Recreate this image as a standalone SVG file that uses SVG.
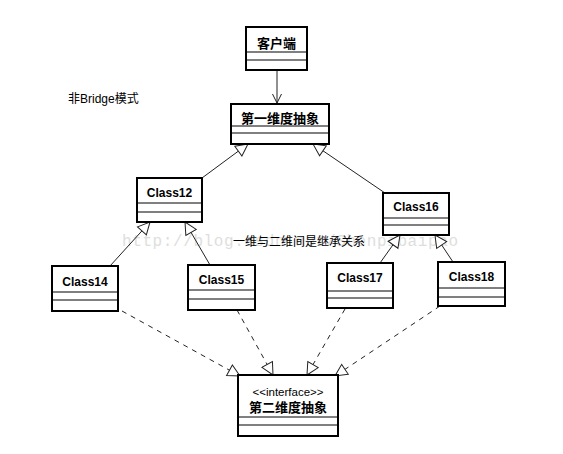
<svg xmlns="http://www.w3.org/2000/svg" width="563" height="454" viewBox="0 0 563 454">
<defs>
<style>
.box{fill:#fff;stroke:#000;stroke-width:2}
.div{stroke:#000;stroke-width:1}
.cls{font-family:"Liberation Sans",Arial,sans-serif;font-weight:bold;font-size:12px;text-anchor:middle;fill:#000}
.cn{font-family:"Noto Sans CJK SC","Liberation Sans",sans-serif;font-weight:bold;font-size:13px;text-anchor:middle;fill:#000}
.lbl{font-family:"Liberation Sans","Noto Sans CJK SC",sans-serif;font-size:12px;fill:#000}
.conn{stroke:#222;stroke-width:1;fill:none}
.dash{stroke-dasharray:5,5}
</style>
<marker id="tri" markerUnits="userSpaceOnUse" markerWidth="16" markerHeight="16" refX="13" refY="7" orient="auto">
<path d="M1,1 L13,7 L1,13 Z" fill="#fff" stroke="#222" stroke-width="1" stroke-dasharray="none"/>
</marker>
<marker id="open" markerUnits="userSpaceOnUse" markerWidth="12" markerHeight="12" refX="10" refY="6" orient="auto">
<path d="M1,1.5 L10,6 L1,10.5" fill="none" stroke="#222" stroke-width="1"/>
</marker>
</defs>
<rect width="563" height="454" fill="#fff"/>
<text x="122" y="246" font-family="Liberation Mono,monospace" font-size="16" fill="#dedede" textLength="336" lengthAdjust="spacing">http://blog.csdn.net/Shenpibaipao</text>
<text class="lbl" x="68" y="103">非Bridge模式</text>
<text class="lbl" x="233" y="246" font-size="11.4">一维与二维间是继承关系</text>
<g id="connectors">
<line class="conn" x1="277" y1="70" x2="277" y2="103" marker-end="url(#open)"/>
<line class="conn" x1="202" y1="178" x2="248" y2="144" marker-end="url(#tri)"/>
<line class="conn" x1="385" y1="193" x2="313" y2="144" marker-end="url(#tri)"/>
<line class="conn" x1="110" y1="266" x2="150" y2="222" marker-end="url(#tri)"/>
<line class="conn" x1="210" y1="265" x2="185" y2="222" marker-end="url(#tri)"/>
<line class="conn" x1="380" y1="263" x2="400" y2="235" marker-end="url(#tri)"/>
<line class="conn" x1="453" y1="262" x2="435" y2="235" marker-end="url(#tri)"/>
<line class="conn dash" x1="122" y1="311" x2="240" y2="376" marker-end="url(#tri)"/>
<line class="conn dash" x1="237" y1="310" x2="273" y2="375" marker-end="url(#tri)"/>
<line class="conn dash" x1="345" y1="309" x2="307" y2="375" marker-end="url(#tri)"/>
<line class="conn dash" x1="440" y1="306" x2="335" y2="376" marker-end="url(#tri)"/>
</g>
<g id="client">
<rect class="box" x="246" y="27" width="61" height="43"/>
<line class="div" x1="246" y1="52" x2="307" y2="52"/>
<line class="div" x1="246" y1="60" x2="307" y2="60"/>
<text class="cn" x="276.5" y="48">客户端</text>
</g>
<g id="abstraction1">
<rect class="box" x="231" y="104" width="98" height="40"/>
<line class="div" x1="231" y1="126" x2="329" y2="126"/>
<line class="div" x1="231" y1="133" x2="329" y2="133"/>
<text class="cn" x="280" y="123">第一维度抽象</text>
</g>
<g id="class12">
<rect class="box" x="137" y="178" width="65" height="44"/>
<line class="div" x1="137" y1="203" x2="202" y2="203"/>
<line class="div" x1="137" y1="212" x2="202" y2="212"/>
<text class="cls" x="169.5" y="197">Class12</text>
</g>
<g id="class16">
<rect class="box" x="383" y="193" width="66" height="42"/>
<line class="div" x1="383" y1="218" x2="449" y2="218"/>
<line class="div" x1="383" y1="225" x2="449" y2="225"/>
<text class="cls" x="416" y="211">Class16</text>
</g>
<g id="class14">
<rect class="box" x="52" y="266" width="66" height="45"/>
<line class="div" x1="52" y1="292" x2="118" y2="292"/>
<line class="div" x1="52" y1="300" x2="118" y2="300"/>
<text class="cls" x="85" y="286">Class14</text>
</g>
<g id="class15">
<rect class="box" x="188" y="265" width="67" height="45"/>
<line class="div" x1="188" y1="290" x2="255" y2="290"/>
<line class="div" x1="188" y1="299" x2="255" y2="299"/>
<text class="cls" x="221.5" y="284">Class15</text>
</g>
<g id="class17">
<rect class="box" x="327" y="263" width="66" height="45"/>
<line class="div" x1="327" y1="291" x2="393" y2="291"/>
<line class="div" x1="327" y1="298" x2="393" y2="298"/>
<text class="cls" x="360" y="282">Class17</text>
</g>
<g id="class18">
<rect class="box" x="438" y="262" width="67" height="44"/>
<line class="div" x1="438" y1="288" x2="505" y2="288"/>
<line class="div" x1="438" y1="297" x2="505" y2="297"/>
<text class="cls" x="471.5" y="281">Class18</text>
</g>
<g id="abstraction2">
<rect class="box" x="238" y="375" width="100" height="61"/>
<line class="div" x1="238" y1="417" x2="338" y2="417"/>
<line class="div" x1="238" y1="425" x2="338" y2="425"/>
<text x="288" y="396" font-family="Liberation Sans,Arial,sans-serif" font-size="11.5" text-anchor="middle" fill="#000">&lt;&lt;interface&gt;&gt;</text>
<text class="cn" x="288" y="412">第二维度抽象</text>
</g>
</svg>
